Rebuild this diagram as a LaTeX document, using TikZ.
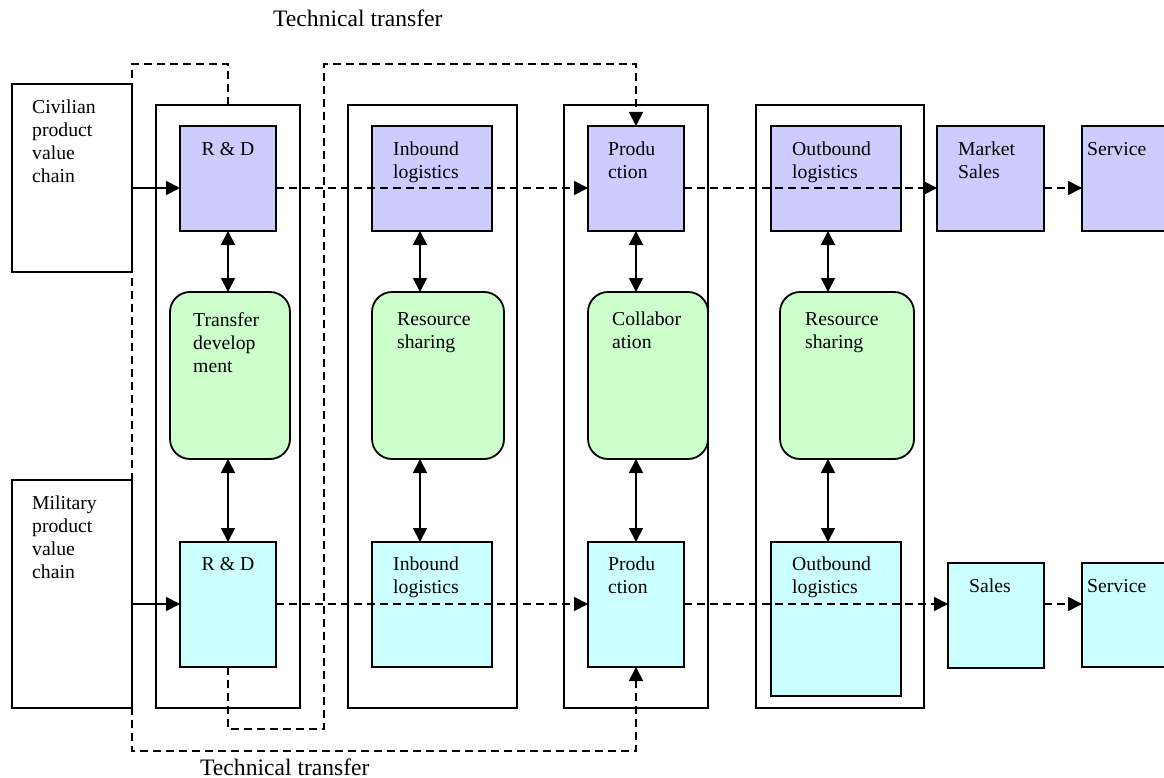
\documentclass[tikz,border=0pt]{standalone}
\usepackage{fontspec}
\setmainfont{Liberation Serif}
\usepackage{tikz}
\usetikzlibrary{calc}
\usetikzlibrary{arrows.meta}
\usetikzlibrary{positioning}
\definecolor{civblue}{HTML}{CCCCFF}
\definecolor{milcyan}{HTML}{CCFFFF}
\definecolor{sharegreen}{HTML}{CCFFCC}
\newcommand{\cellfont}{\fontsize{19.7}{23}\selectfont}
\newcommand{\notefont}{\fontsize{23.6}{28}\selectfont}
\tikzset{>={Triangle[length=14pt, width=14pt]}}
\tikzset{
  box/.style = {draw=black, line width=1.8pt, anchor=north west, inner sep=0pt, outer sep=0pt},
  chainbox/.style = {box, fill=white},
  colbox/.style = {box},
  upbox/.style = {box, fill=civblue},
  lowbox/.style = {box, fill=milcyan},
  sharebox/.style = {box, fill=sharegreen, rounded corners=20pt},
  txt/.style = {font=\cellfont, align=left, inner sep=0pt, anchor=north west},
  link/.style = {line width=1.8pt},
  flow/.style = {line width=1.8pt, dash pattern=on 8pt off 5pt},
  note/.style = {font=\notefont, inner sep=0pt, anchor=west}
}

\begin{document}
\begin{tikzpicture}[x=1pt, y=-1pt]
\useasboundingbox (0,0) rectangle (1164,778);
\clip (0,0) rectangle (1164,778);
% helper levels
\coordinate (civline) at (0,188);
\coordinate (milline) at (0,604);
\coordinate (ttTop) at (0,64);
\coordinate (ttBot) at (0,751);
\coordinate (ttMid) at (324,729);

% columns
\node [colbox, minimum width=144, minimum height=603] (col1) at (156,105) {};
\node [colbox, minimum width=169, minimum height=603] (col2) at (348,105) {};
\node [colbox, minimum width=144, minimum height=603] (col3) at (564,105) {};
\node [colbox, minimum width=168, minimum height=603] (col4) at (756,105) {};

% technical transfer paths
\draw [flow, ->] (col1.north) -- (col1.north |- ttTop) -| (132,751) -| (636,667);

% value chains
\node [chainbox, minimum width=120, minimum height=188,
  label={[txt, xshift=20pt, yshift=-16pt]north west:Civilian\\product\\value\\chain}] (civbox) at (12,84) {};
\node [chainbox, minimum width=120, minimum height=228,
  label={[txt, xshift=20pt, yshift=-16pt]north west:Military\\product\\value\\chain}] (milbox) at (12,480) {};

% civilian row
\node [upbox, minimum width=96, minimum height=105,
  label={[txt, anchor=north, yshift=-16pt]north:R \& D}] (up1) at (180,126) {};
\node [upbox, minimum width=120, minimum height=105,
  label={[txt, xshift=21pt, yshift=-16pt]north west:Inbound\\logistics}] (up2) at (372,126) {};
\node [upbox, minimum width=96, minimum height=105,
  label={[txt, xshift=20pt, yshift=-16pt]north west:Produ\\ction}] (up3) at (588,126) {};
\node [upbox, minimum width=130, minimum height=105,
  label={[txt, xshift=21pt, yshift=-16pt]north west:Outbound\\logistics}] (up4) at (771,126) {};
\node [upbox, minimum width=107, minimum height=105,
  label={[txt, xshift=21pt, yshift=-16pt]north west:Market\\Sales}] (up5) at (937,126) {};
\node [upbox, minimum width=100, minimum height=105,
  label={[txt, xshift=5pt, yshift=-16pt]north west:Service}] (up6) at (1082,126) {};

% shared activities
\node [sharebox, minimum width=120, minimum height=167,
  label={[txt, xshift=23pt, yshift=-20pt]north west:Transfer\\develop\\ment}] (gr1) at (170,292) {};
\node [sharebox, minimum width=132, minimum height=167,
  label={[txt, xshift=25pt, yshift=-20pt]north west:Resource\\sharing}] (gr2) at (372,292) {};
\node [sharebox, minimum width=120, minimum height=167,
  label={[txt, xshift=24pt, yshift=-20pt]north west:Collabor\\ation}] (gr3) at (588,292) {};
\node [sharebox, minimum width=134, minimum height=167,
  label={[txt, xshift=25pt, yshift=-20pt]north west:Resource\\sharing}] (gr4) at (780,292) {};

% military row
\node [lowbox, minimum width=96, minimum height=125,
  label={[txt, anchor=north, yshift=-15pt]north:R \& D}] (lo1) at (180,542) {};
\node [lowbox, minimum width=120, minimum height=125,
  label={[txt, xshift=21pt, yshift=-15pt]north west:Inbound\\logistics}] (lo2) at (372,542) {};
\node [lowbox, minimum width=96, minimum height=125,
  label={[txt, xshift=20pt, yshift=-15pt]north west:Produ\\ction}] (lo3) at (588,542) {};
\node [lowbox, minimum width=130, minimum height=154,
  label={[txt, xshift=21pt, yshift=-15pt]north west:Outbound\\logistics}] (lo4) at (771,542) {};
\node [lowbox, minimum width=96, minimum height=105,
  label={[txt, xshift=21pt, yshift=-16pt]north west:Sales}] (lo5) at (948,563) {};
\node [lowbox, minimum width=100, minimum height=104,
  label={[txt, xshift=5pt, yshift=-16pt]north west:Service}] (lo6) at (1082,563) {};

% second transfer path
\draw [flow, ->] (lo1.south) |- (ttMid) -- (ttMid |- ttTop) -| (up3.north);

% chain flows
\draw [link, ->] (civbox.east |- civline) -- (up1.west |- civline);
\draw [flow, ->] (up1.east |- civline) -- (up3.west |- civline);
\draw [flow, ->] (up3.east |- civline) -- (up5.west |- civline);
\draw [flow, ->] (up5.east |- civline) -- (up6.west |- civline);
\draw [link, ->] (milbox.east |- milline) -- (lo1.west |- milline);
\draw [flow, ->] (lo1.east |- milline) -- (lo3.west |- milline);
\draw [flow, ->] (lo3.east |- milline) -- (lo5.west |- milline);
\draw [flow, ->] (lo5.east |- milline) -- (lo6.west |- milline);

% links to shared activities
\foreach \n/\x in {1/228, 2/420, 3/636, 4/828} {
  \coordinate (ax\n) at (\x,0);
  \draw [link, <->] (ax\n |- up\n.south) -- (ax\n |- gr\n.north);
  \draw [link, <->] (ax\n |- gr\n.south) -- (ax\n |- lo\n.north);
}

\node [note] (ttup) at (273,18) {Technical transfer};
\node [note] (ttdown) at (200,767) {Technical transfer};
\end{tikzpicture}
\end{document}
